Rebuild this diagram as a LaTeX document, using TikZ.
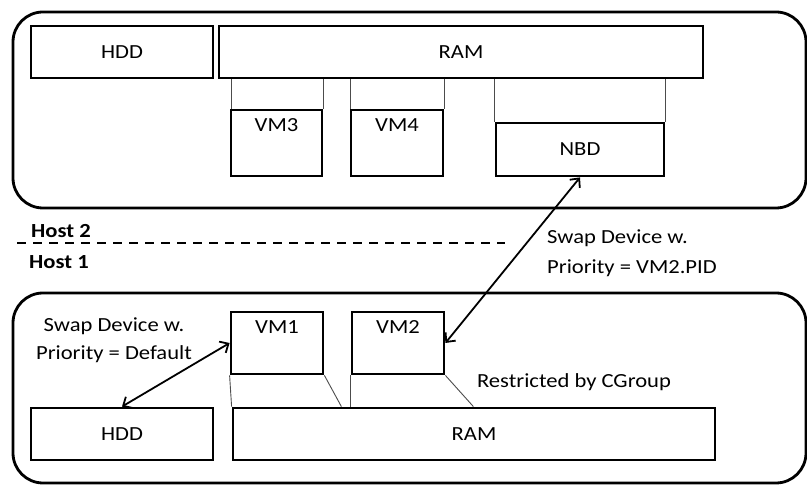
\documentclass[tikz,border=0pt]{standalone}
\usepackage{fontspec}
\setmainfont{Carlito}[FakeStretch=1.13]
\usetikzlibrary{arrows.meta,calc}
\begin{document}
\begin{tikzpicture}[x=1pt,y=-1pt,
  host/.style={draw, line width=2.8pt, rounded corners=30pt, rectangle, inner sep=0pt},
  box/.style={draw, line width=2.8pt, rectangle, inner sep=0pt, font=\fontsize{20}{23}\selectfont},
  vmlbl/.style={anchor=north, yshift=-10pt, inner sep=0pt, font=\fontsize{20}{23}\selectfont},
  conn/.style={line width=0.9pt, draw=black!70},
  lbl/.style={font=\fontsize{20}{23}\selectfont, inner sep=0pt},
  hostlbl/.style={font=\bfseries\fontsize{20}{23}\selectfont, inner sep=0pt, anchor=west},
  swap/.style={line width=1.8pt, {Straight Barb[length=7pt,width=13pt]}-{Straight Barb[length=7pt,width=13pt]}},
]
\useasboundingbox (0,0) rectangle (807,486);

% host 2
\node[host, minimum width=793, minimum height=196] (host2) at (409.5,110) {};
\node[box, minimum width=182, minimum height=52] (hdd2) at (122,52) {HDD};
\node[box, minimum width=484, minimum height=52] (ram2) at (461,52) {RAM};
\node[box, minimum width=91, minimum height=66, label={[vmlbl]north:VM3}] (vm3) at (276.5,143) {};
\node[box, minimum width=92, minimum height=66, label={[vmlbl]north:VM4}] (vm4) at (397,143) {};
\node[box, minimum width=168, minimum height=53] (nbd) at (580,149.5) {NBD};

\draw[conn] ($(vm3.north west)+(2,0)$) -- ($(vm3.north west |- ram2.south)+(2,0)$);
\draw[conn] (vm3.north east) -- (vm3.north east |- ram2.south);
\draw[conn] ($(vm4.north west)+(1,0)$) -- ($(vm4.north west |- ram2.south)+(1,0)$);
\draw[conn] (vm4.north east) -- (vm4.north east |- ram2.south);
\draw[conn] (nbd.north west) -- (nbd.north west |- ram2.south);
\draw[conn] (nbd.north east) -- (nbd.north east |- ram2.south);

% separator
\draw[line width=2.4pt, dash pattern=on 9pt off 7pt] (17,243) -- (505,243);
\node[hostlbl] (h2) at (31,231) {Host 2};
\node[hostlbl] (h1) at (29,262) {Host 1};

% host 1
\node[host, minimum width=793, minimum height=190] (host1) at (409.5,388) {};
\node[box, minimum width=92, minimum height=62, label={[vmlbl]north:VM1}] (vm1) at (277,343) {};
\node[box, minimum width=92, minimum height=62, label={[vmlbl]north:VM2}] (vm2) at (398,343) {};
\node[box, minimum width=182, minimum height=52] (hdd1) at (122,434) {HDD};
\node[box, minimum width=482, minimum height=52] (ram1) at (474,434) {RAM};

\draw[conn] (vm1.south west) -- ($(vm1.south west |- ram1.north)+(2,0)$);
\draw[conn] (vm1.south east) -- ($(vm1.south east |- ram1.north)+(17,0)$);
\draw[conn] (vm2.south west) -- (vm2.south west |- ram1.north);
\draw[conn] (vm2.south east) -- ($(vm2.south east |- ram1.north)+(28,0)$);

\node[lbl] (rc) at (574,382) {Restricted by CGroup};

% swap links
\node[lbl, align=center] (s1) at (114,340) {Swap Device w.\\[5pt]Priority = Default};
\node[lbl, align=left, anchor=west] (s2) at (547,253) {Swap Device w.\\[7pt]Priority = VM2.PID};

\draw[swap] (hdd1.north) -- (vm1.west);
\draw[swap] (nbd.south) -- (vm2.east);
\end{tikzpicture}
\end{document}
